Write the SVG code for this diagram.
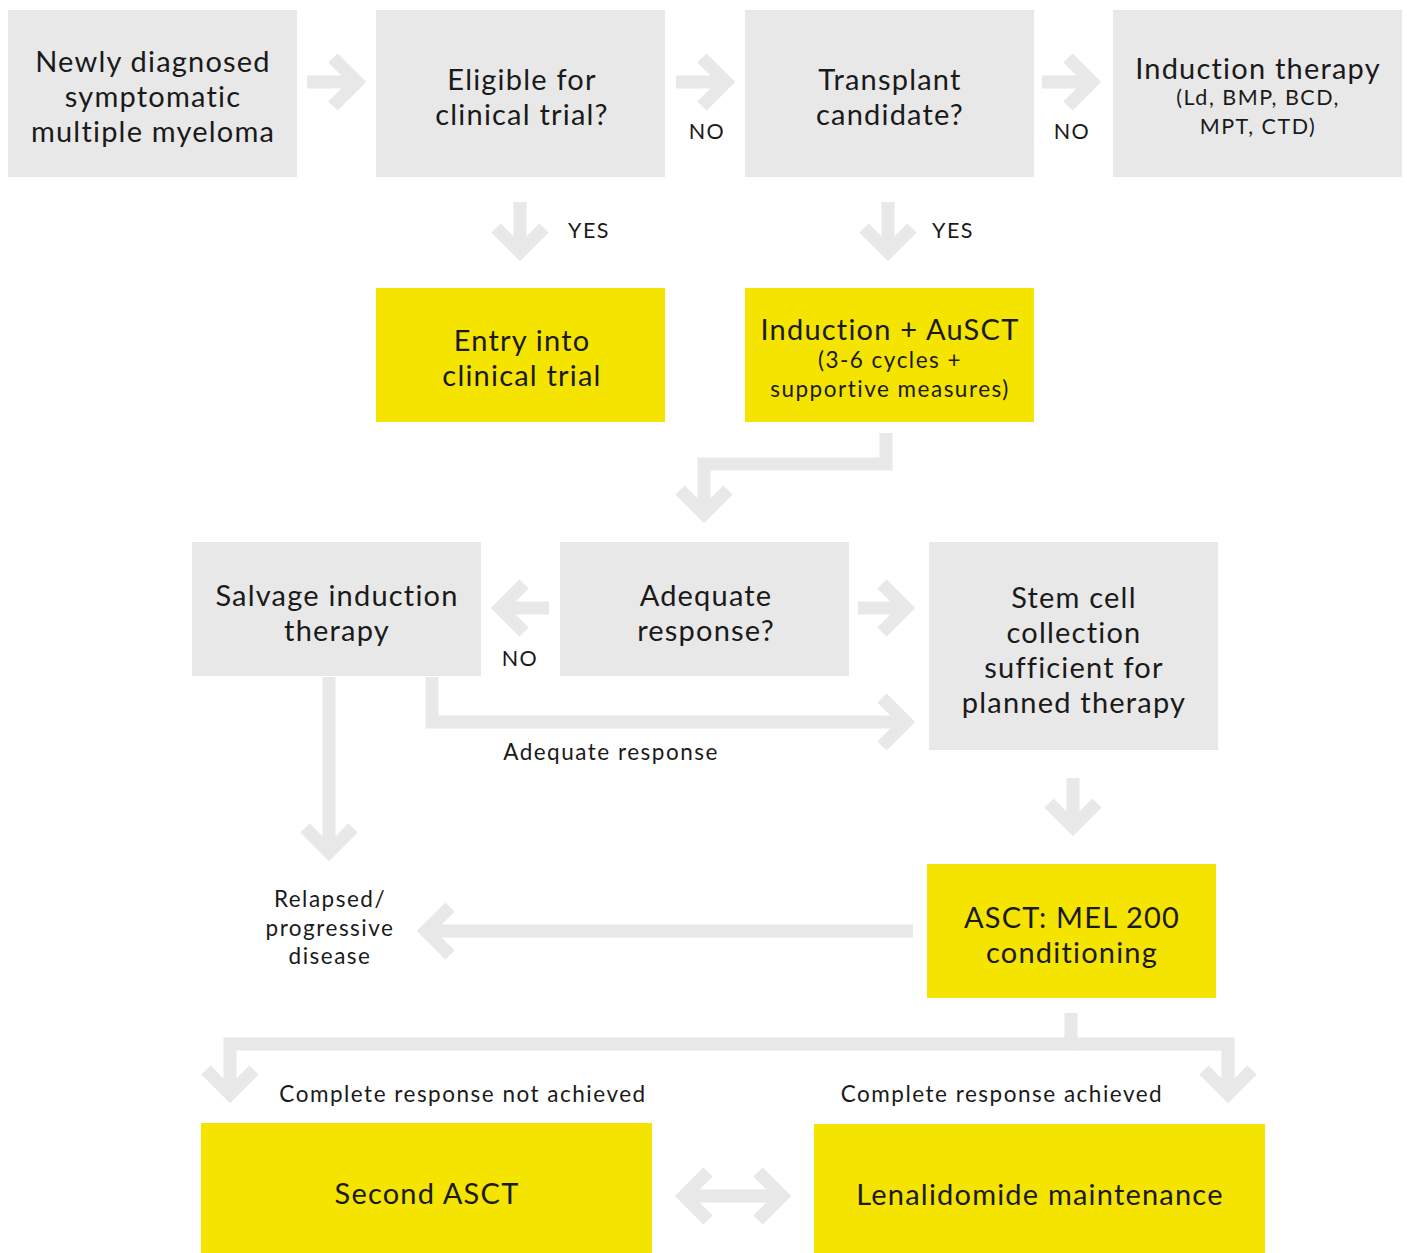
<svg xmlns="http://www.w3.org/2000/svg" width="1407" height="1253" viewBox="0 0 1407 1253">
<style>
.g{fill:#e8e8e8}
.y{fill:#f4e400}
.t{font-family:Lato,"Open Sans","Liberation Sans",sans-serif;fill:#1a1a1a;text-anchor:middle}
.L{font-size:29px;letter-spacing:1.2px}
.M{font-size:22.5px;letter-spacing:1.5px}
.S{font-size:21.5px;letter-spacing:1.5px}
.a{fill:none;stroke:#e8e8e8;stroke-width:13;stroke-linejoin:miter;stroke-miterlimit:10}
</style>
<rect width="1407" height="1253" fill="#ffffff"/>
<g id="connectors">
<path class="a" d="M307 82H355M333 58L357 82L333 106"/>
<path class="a" d="M676 82H724M702 58L726 82L702 106"/>
<path class="a" d="M1042 82H1090M1068 58L1092 82L1068 106"/>
<path class="a" d="M520 202V250M496 228L520 252L544 228"/>
<path class="a" d="M888 202V250M864 228L888 252L912 228"/>
<path class="a" d="M886 433V464H704V512M680 490L704 514L728 490"/>
<path class="a" d="M549 608H502M524 584L500 608L524 632"/>
<path class="a" d="M858 608H905M882 584L906 608L882 632"/>
<path class="a" d="M432 677V722H904M882 698L906 722L882 746"/>
<path class="a" d="M329 677V850M305 828L329 852L353 828"/>
<path class="a" d="M1073 778V826M1049 803L1073 827L1097 803"/>
<path class="a" d="M913 931H427M450 907L426 931L450 955"/>
<path class="a" d="M1071 1013V1044H230V1092M206 1070L230 1094L254 1070"/>
<path class="a" d="M1071 1044H1228V1092M1204 1070L1228 1094L1252 1070"/>
<path class="a" d="M685 1196H781M708 1172L684 1196L708 1220M758 1172L782 1196L758 1220"/>
</g>
<g id="n1"><rect class="g" x="8" y="10" width="289" height="167"/>
<text class="t L" x="153" y="72">Newly diagnosed</text><text class="t L" x="153" y="107">symptomatic</text><text class="t L" x="153" y="142">multiple myeloma</text></g>
<g id="n2"><rect class="g" x="376" y="10" width="289" height="167"/>
<text class="t L" x="522" y="90">Eligible for</text><text class="t L" x="522" y="125">clinical trial?</text></g>
<g id="n3"><rect class="g" x="745" y="10" width="289" height="167"/>
<text class="t L" x="890" y="90">Transplant</text><text class="t L" x="890" y="125">candidate?</text></g>
<g id="n4"><rect class="g" x="1113" y="10" width="289" height="167"/>
<text class="t L" x="1258" y="79">Induction therapy</text><text class="t S" x="1258" y="105">(Ld, BMP, BCD,</text><text class="t S" x="1258" y="134">MPT, CTD)</text></g>
<g id="lbl1"><text class="t S" x="707" y="139">NO</text><text class="t S" x="1072" y="139">NO</text>
<text class="t S" x="589" y="238">YES</text><text class="t S" x="953" y="238">YES</text></g>
<g id="n5"><rect class="y" x="376" y="288" width="289" height="134"/>
<text class="t L" x="522" y="351">Entry into</text><text class="t L" x="522" y="386">clinical trial</text></g>
<g id="n6"><rect class="y" x="745" y="288" width="289" height="134"/>
<text class="t L" x="890" y="340">Induction + AuSCT</text><text class="t M" x="890" y="368">(3-6 cycles +</text><text class="t M" x="890" y="397">supportive measures)</text></g>
<g id="n7"><rect class="g" x="192" y="542" width="289" height="134"/>
<text class="t L" x="337" y="606">Salvage induction</text><text class="t L" x="337" y="641">therapy</text></g>
<g id="n8"><rect class="g" x="560" y="542" width="289" height="134"/>
<text class="t L" x="706" y="606">Adequate</text><text class="t L" x="706" y="641">response?</text></g>
<g id="lbl2"><text class="t S" x="520" y="666">NO</text><text class="t M" x="611" y="760">Adequate response</text></g>
<g id="n9"><rect class="g" x="929" y="542" width="289" height="208"/>
<text class="t L" x="1074" y="608">Stem cell</text><text class="t L" x="1074" y="643">collection</text><text class="t L" x="1074" y="678">sufficient for</text><text class="t L" x="1074" y="713">planned therapy</text></g>
<g id="n10"><text class="t M" x="330" y="907">Relapsed/</text><text class="t M" x="330" y="936">progressive</text><text class="t M" x="330" y="964">disease</text></g>
<g id="n11"><rect class="y" x="927" y="864" width="289" height="134"/>
<text class="t L" x="1072" y="928">ASCT: MEL 200</text><text class="t L" x="1072" y="963">conditioning</text></g>
<g id="lbl3"><text class="t M" x="463" y="1102">Complete response not achieved</text><text class="t M" x="1002" y="1102">Complete response achieved</text></g>
<g id="n12"><rect class="y" x="201" y="1123" width="451" height="130"/>
<text class="t L" x="427" y="1204">Second ASCT</text></g>
<g id="n13"><rect class="y" x="814" y="1124" width="451" height="129"/>
<text class="t L" x="1040" y="1205">Lenalidomide maintenance</text></g>
</svg>
